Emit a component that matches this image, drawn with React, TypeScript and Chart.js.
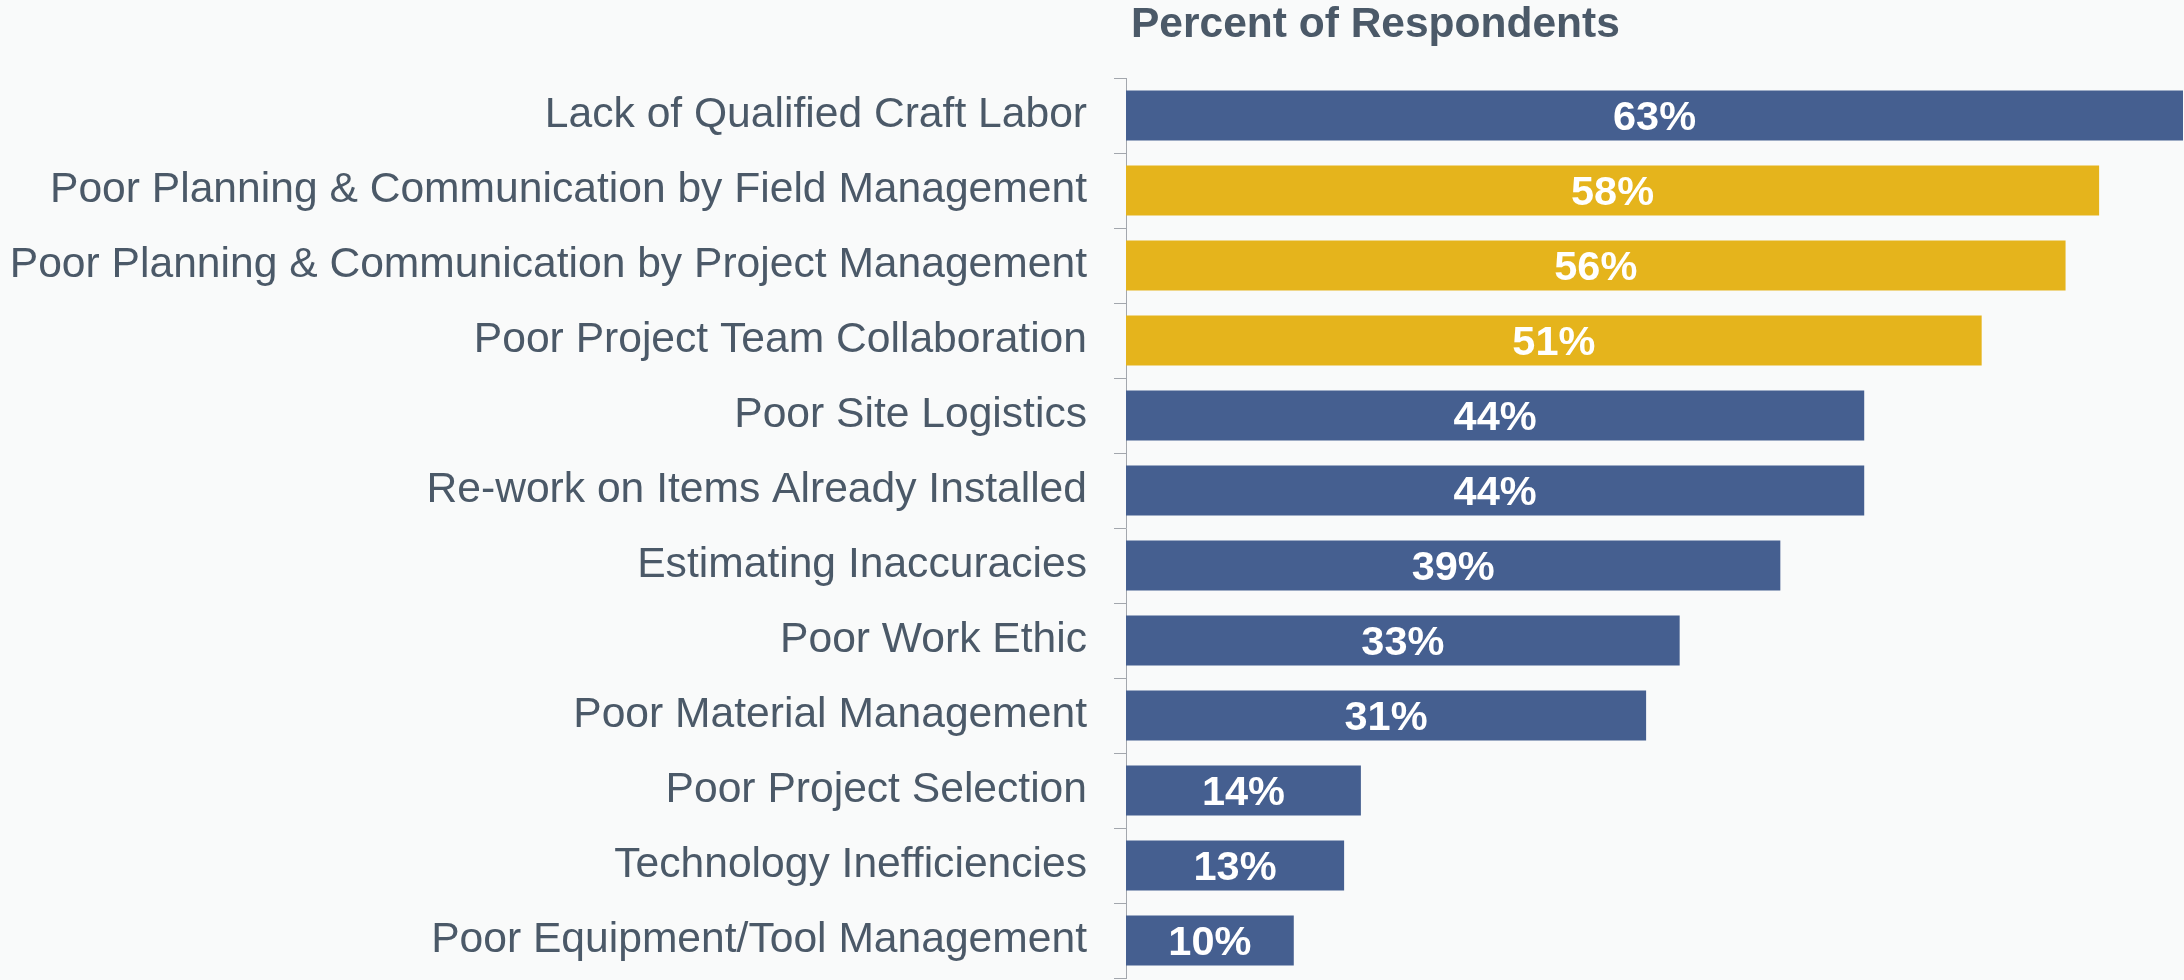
import React, { useEffect, useRef } from "react";
import { Chart, registerables } from "chart.js";

Chart.register(...registerables);

const categories = [
  "Lack of Qualified Craft Labor",
  "Poor Planning & Communication by Field Management",
  "Poor Planning & Communication by Project Management",
  "Poor Project Team Collaboration",
  "Poor Site Logistics",
  "Re-work on Items Already Installed",
  "Estimating Inaccuracies",
  "Poor Work Ethic",
  "Poor Material Management",
  "Poor Project Selection",
  "Technology Inefficiencies",
  "Poor Equipment/Tool Management",
];

const percentValues = [63, 58, 56, 51, 44, 44, 39, 33, 31, 14, 13, 10];

const highlighted = [false, true, true, true, false, false, false, false, false, false, false, false];

const chartTitle = "Percent of Respondents";

const BLUE = "#455f90";
const GOLD = "#e5b41c";
const TEXT = "#4b5968";
const AXIS = "#a3a7ad";
const BG = "#f9fafa";
const FONT = "'Liberation Sans', Arial, sans-serif";

export default function App() {
  const ref = useRef<HTMLCanvasElement | null>(null);

  useEffect(() => {
    document.body.style.margin = "0";
    document.body.style.background = BG;
    const canvas = ref.current;
    if (!canvas) return;

    const titlePlugin = {
      id: "customTitle",
      afterDraw(chart: any) {
        const { ctx, chartArea } = chart;
        ctx.save();
        ctx.font = "bold 42.5px " + FONT;
        ctx.fillStyle = TEXT;
        ctx.textAlign = "left";
        ctx.textBaseline = "alphabetic";
        ctx.fillText(chartTitle, chartArea.left + 5, 37);
        ctx.restore();
      },
    };

    const valueLabels = {
      id: "valueLabels",
      afterDatasetsDraw(chart: any) {
        const { ctx } = chart;
        const meta = chart.getDatasetMeta(0);
        ctx.save();
        ctx.font = "bold 41.5px " + FONT;
        ctx.fillStyle = "#ffffff";
        ctx.textAlign = "center";
        ctx.textBaseline = "middle";
        meta.data.forEach((bar: any, i: number) => {
          const { x, y, base } = bar.getProps(["x", "y", "base"], true);
          ctx.fillText(percentValues[i] + "%", (x + base) / 2, y + 3);
        });
        ctx.restore();
      },
    };

    const chart = new Chart(canvas, {
      type: "bar",
      data: {
        labels: categories,
        datasets: [
          {
            data: percentValues,
            backgroundColor: highlighted.map((h) => (h ? GOLD : BLUE)),
            borderWidth: 0,
            categoryPercentage: 1,
            barPercentage: 0.667,
          },
        ],
      },
      options: {
        indexAxis: "y",
        responsive: false,
        animation: false,
        layout: { padding: { top: 78, bottom: 2, right: 1, left: 0 } },
        plugins: {
          legend: { display: false },
          title: { display: false },
          tooltip: { enabled: false },
        },
        scales: {
          x: {
            display: false,
            min: 0,
            max: 63,
          },
          y: {
            afterFit(scale: any) {
              scale.width = 1126;
              scale.paddingTop = 0;
              scale.paddingBottom = 0;
            },
            border: { display: true, color: AXIS, width: 1 },
            grid: {
              display: true,
              drawOnChartArea: false,
              drawTicks: true,
              tickLength: 12,
              color: AXIS,
              offset: true,
            },
            ticks: {
              color: TEXT,
              padding: 27,
              autoSkip: false,
              font: { family: FONT, size: 42.6 },
            },
          },
        },
      },
      plugins: [titlePlugin, valueLabels],
    });

    return () => chart.destroy();
  }, []);

  return (
    <div style={{ width: 2184, height: 980, background: BG }}>
      <canvas ref={ref} width={2184} height={980} style={{ display: "block" }} />
    </div>
  );
}
